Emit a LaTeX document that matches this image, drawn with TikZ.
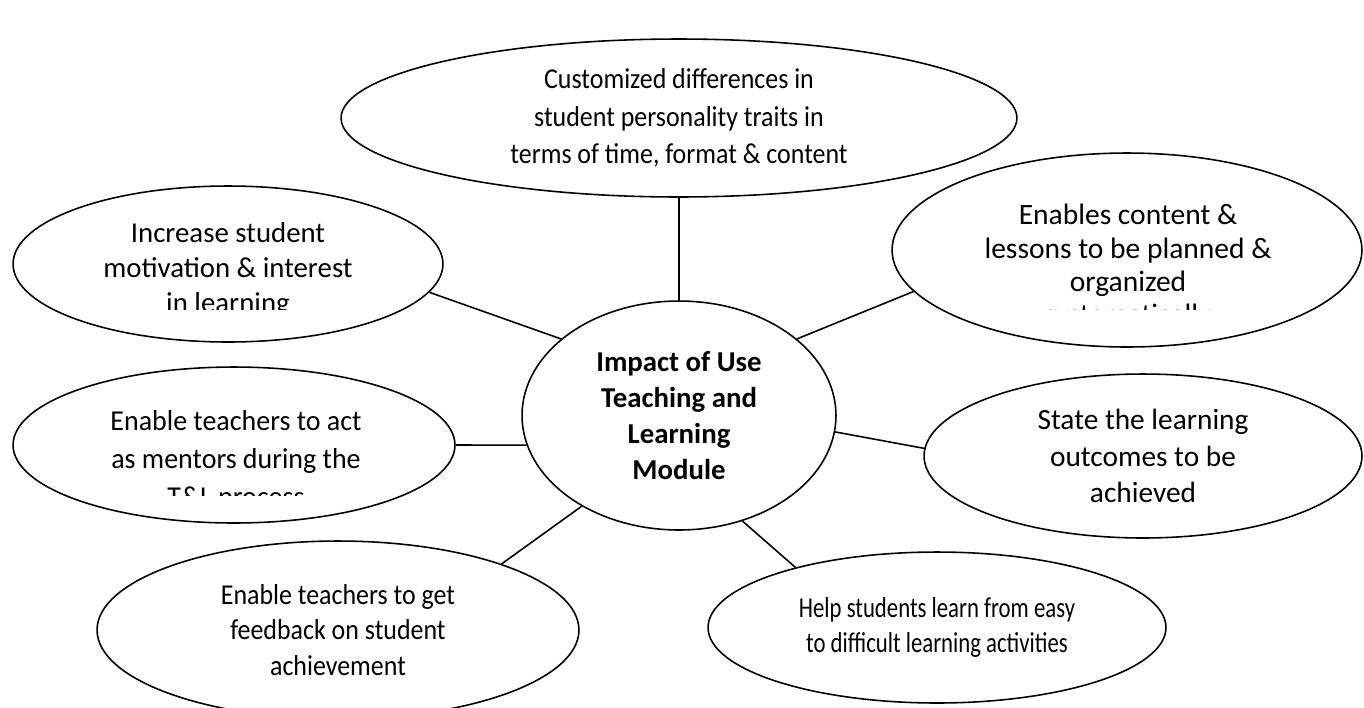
\documentclass[tikz,border=0pt]{standalone}
\usepackage{fontspec}
\setmainfont{Carlito}
\newfontfamily\tightfont[FakeStretch=0.9]{Carlito}
\newfontfamily\slimfont[FakeStretch=0.97]{Carlito}
\newfontfamily\narrowfont[FakeStretch=0.79]{Carlito}
\usetikzlibrary{shapes.geometric}

\tikzset{
    bubble/.style={draw, ellipse, line width=0.9pt, inner sep=0pt, align=center},
    link/.style={line width=0.9pt},
}

\begin{document}
\begin{tikzpicture}[x=0.02cm, y=-0.02cm]

    % Canvas
    \clip (0,0) rectangle (1364,707);

    % Central idea
    \node[bubble, minimum width=6.28cm, minimum height=4.58cm, font=\fontsize{16.4}{20.4}\selectfont\bfseries] (hub) at (679,415.5) {Impact of Use\\Teaching and\\Learning\\Module};

    % Top bubble
    \node[bubble, minimum width=13.52cm, minimum height=3.16cm, font=\tightfont\fontsize{16.4}{21.3}\selectfont] (custom) at (679,118) {Customized differences in\\student personality traits in\\terms of time, format \& content};

    % Upper left bubble (last line cut off)
    \node[bubble, minimum width=8.6cm, minimum height=3.12cm] (motiv) at (228,264) {};
    \begin{scope}
        \clip (20,180) rectangle (440,309);
        \node[align=center, font=\fontsize{16.4}{19.8}\selectfont] (motivtext) at (228,270) {Increase student\\motivation \& interest\\in learning};
    \end{scope}

    % Upper right bubble (last line cut off)
    \node[bubble, minimum width=9.4cm, minimum height=3.88cm] (plan) at (1127,250) {};
    \begin{scope}
        \clip (900,160) rectangle (1360,309);
        \node[align=center, font=\fontsize{16.8}{19}\selectfont] (plantext) at (1128,267) {Enables content \&\\lessons to be planned \&\\organized\\systematically};
    \end{scope}

    % Middle left bubble (last line cut off)
    \node[bubble, minimum width=8.84cm, minimum height=3.12cm] (mentor) at (234,445) {};
    \begin{scope}
        \clip (20,370) rectangle (450,495);
        \node[align=center, font=\slimfont\fontsize{16.4}{21.5}\selectfont] (mentortext) at (236,461) {Enable teachers to act\\as mentors during the\\T\&L process};
    \end{scope}

    % Middle right bubble
    \node[bubble, minimum width=8.76cm, minimum height=3.28cm, font=\fontsize{16.7}{20.8}\selectfont] (outcome) at (1143,456) {State the learning\\outcomes to be\\achieved};

    % Lower left bubble
    \node[bubble, minimum width=9.64cm, minimum height=3.56cm, font=\tightfont\fontsize{16.4}{20.1}\selectfont] (feedback) at (338,630) {Enable teachers to get\\feedback on student\\achievement};

    % Lower right bubble
    \node[bubble, minimum width=9.16cm, minimum height=3.02cm, font=\narrowfont\fontsize{16.4}{20.4}\selectfont] (easy) at (937,627.5) {Help students learn from easy\\to difficult learning activities};

    % Spokes
    \draw[link] (custom.south) -- (hub.north);
    \draw[link] (motiv.-8) -- (hub.147);
    \draw[link] (plan.191) -- (hub.33);
    \draw[link] (mentor.east) -- (hub.191);
    \draw[link] (outcome.178) -- (hub.-6);
    \draw[link] (feedback.22) -- (hub.223);
    \draw[link] (easy.157) -- (hub.-59);

\end{tikzpicture}
\end{document}
